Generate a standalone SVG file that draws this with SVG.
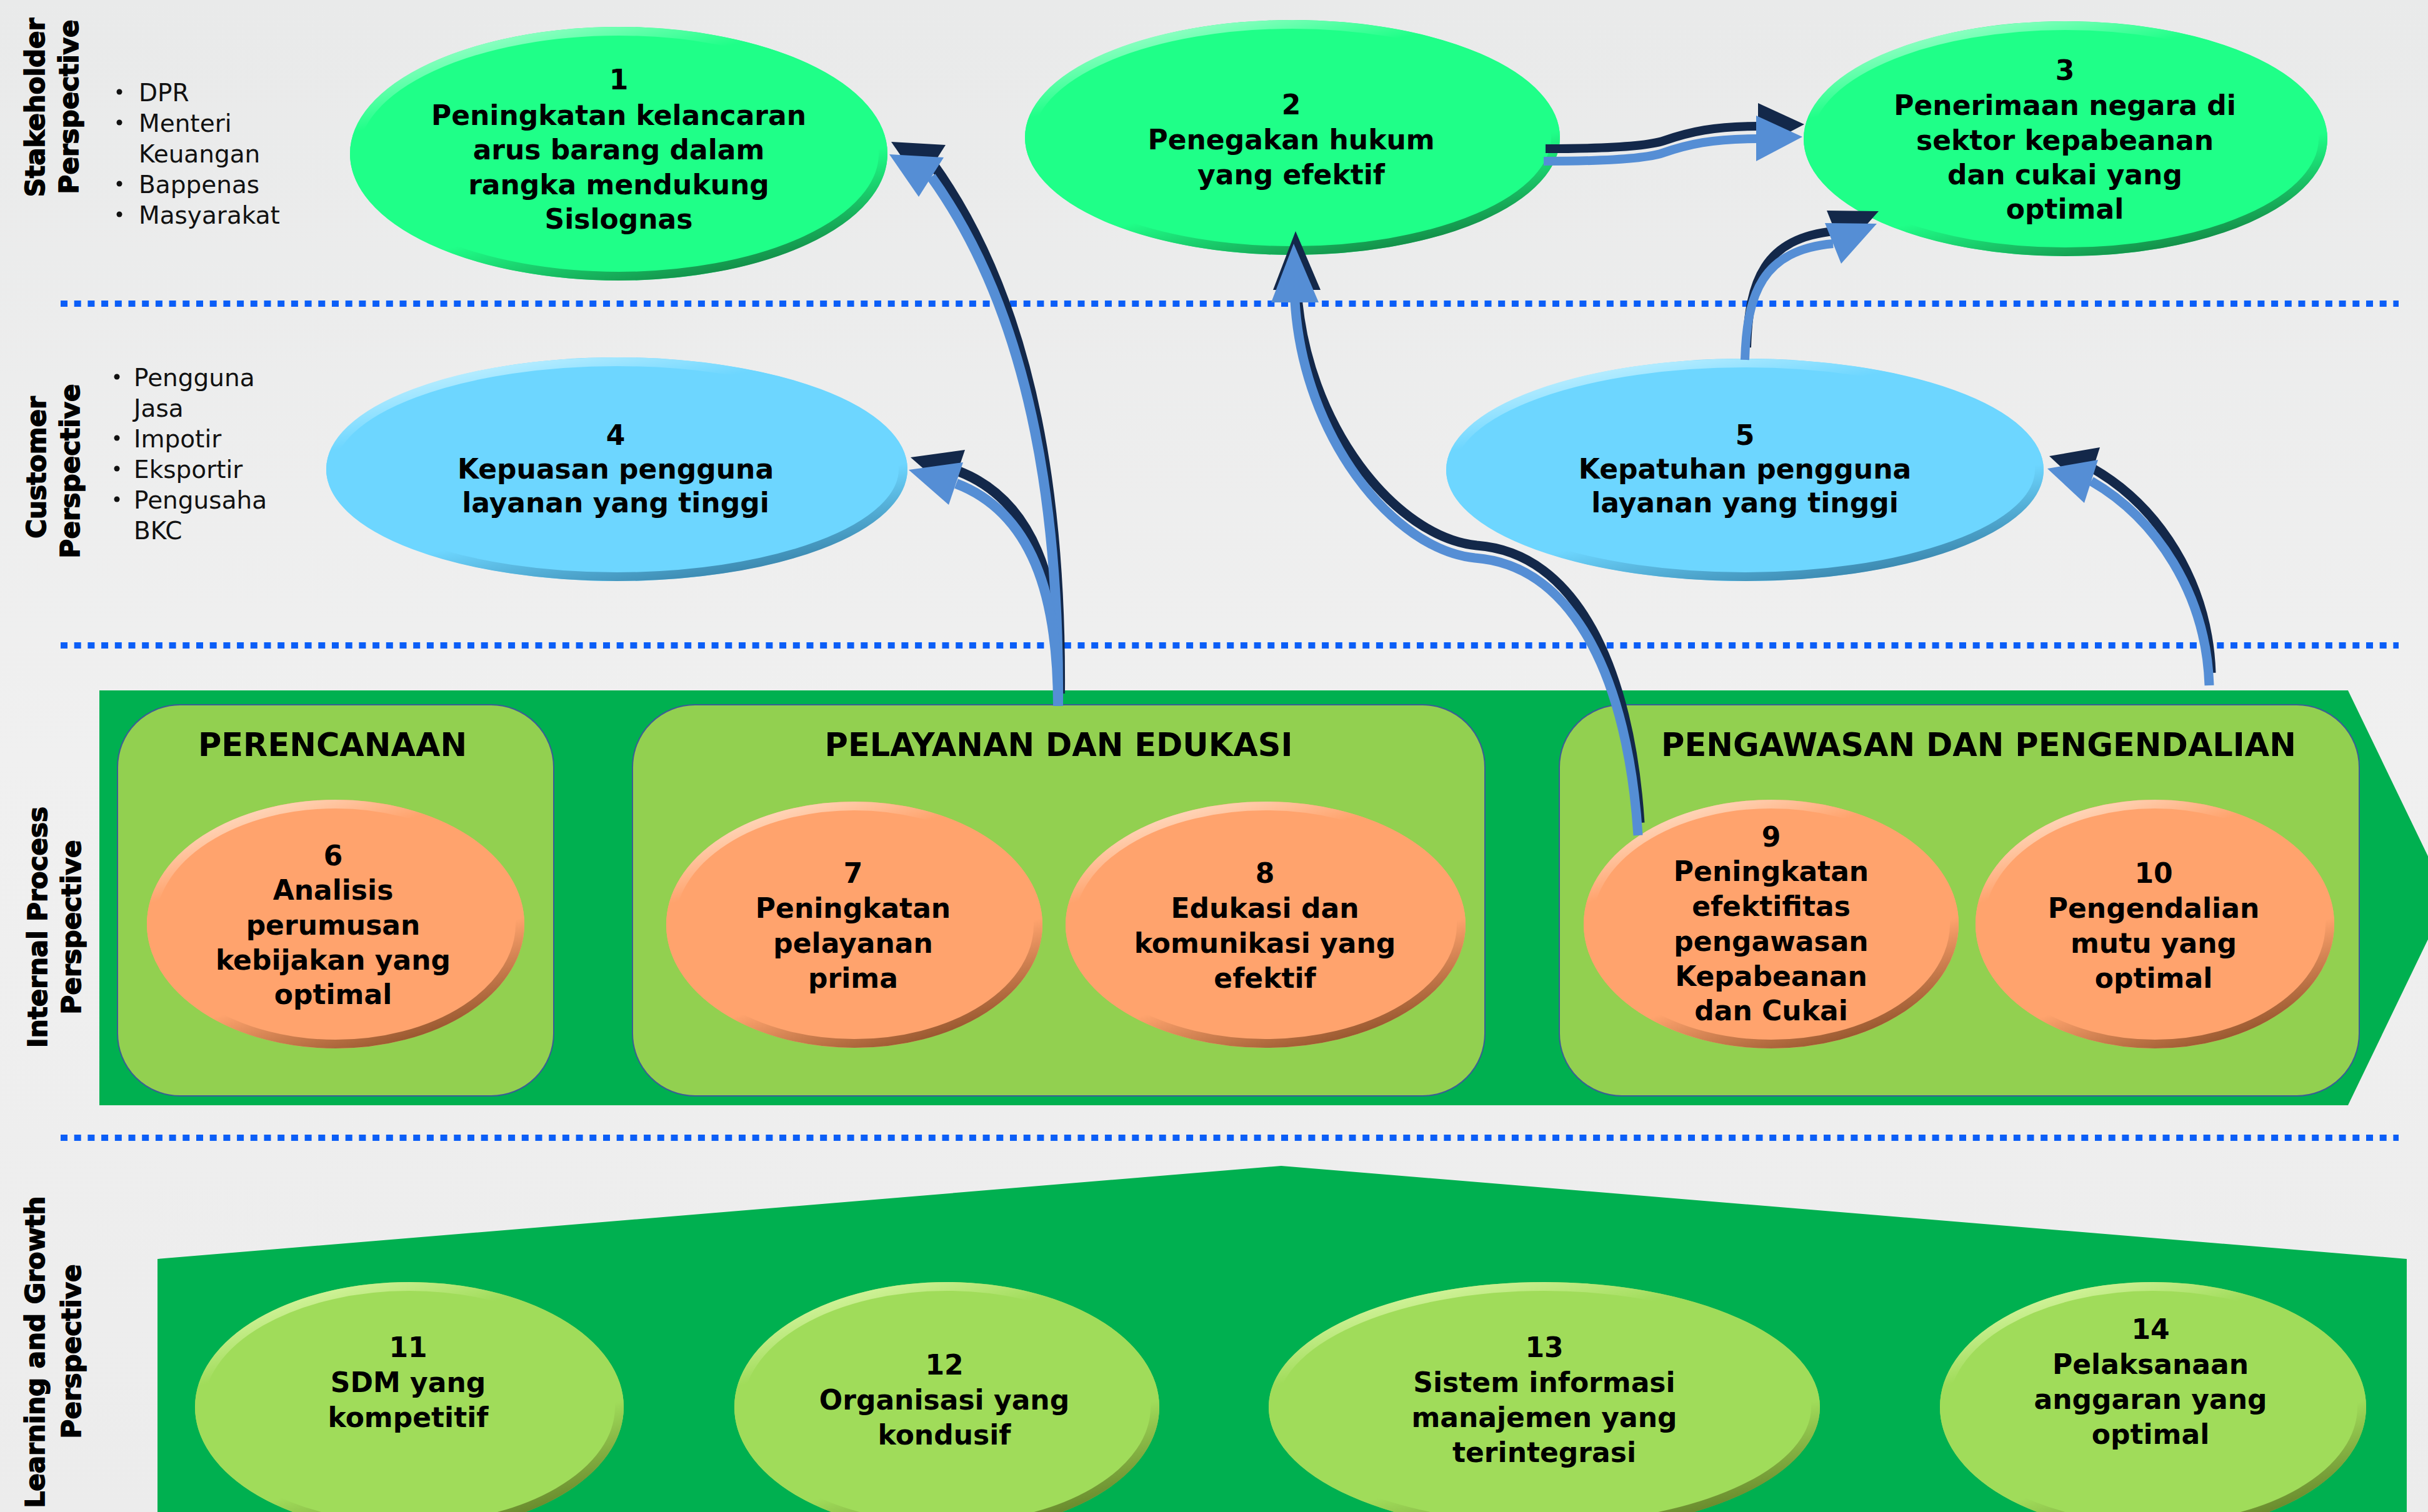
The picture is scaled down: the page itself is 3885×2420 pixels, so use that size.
<svg xmlns="http://www.w3.org/2000/svg" xmlns:xlink="http://www.w3.org/1999/xlink" width="3885" height="2420" viewBox="0 0 3885 2420">
<style>
.nt{font-family:"DejaVu Sans",Verdana,sans-serif;font-weight:bold;font-size:44px;text-anchor:middle;fill:#000}
.bt{font-family:"DejaVu Sans",Verdana,sans-serif;font-weight:bold;font-size:51px;text-anchor:middle;fill:#000}
.pl{font-family:"DejaVu Sans",Verdana,sans-serif;font-weight:bold;font-size:42px;text-anchor:middle;fill:#000;stroke:#000;stroke-width:1.6}
.bl{font-family:"DejaVu Sans",Tahoma,sans-serif;font-size:39px;fill:#111}
.dot{fill:#111}
.sep{stroke:#0b5ef7;stroke-width:10;stroke-dasharray:11 10.7;fill:none}
.band{fill:#00b050}
.box{fill:#92d050;stroke:#3b5c96;stroke-width:2}
.gE{fill:#1fff88}.gB{fill:none;stroke:url(#bevG);stroke-width:14}
.cE{fill:#6dd6ff}.cB{fill:none;stroke:url(#bevC);stroke-width:14}
.oE{fill:#ffa36d}.oB{fill:none;stroke:url(#bevO);stroke-width:14}
.lE{fill:#a0dc5a}.lB{fill:none;stroke:url(#bevL);stroke-width:14}
.shL{fill:none;stroke:#13284a}
.blL{fill:none;stroke:#558ed5}
.shH{fill:#13284a}
.blH{fill:#558ed5}
</style>
<defs>
<linearGradient id="bg" x1="0" y1="0" x2="0" y2="1">
<stop offset="0" stop-color="#e9eaea"/><stop offset="0.5" stop-color="#f0f0f0"/><stop offset="1" stop-color="#ececec"/>
</linearGradient>
<linearGradient id="bevG" x1="0.2" y1="0" x2="0.7" y2="1">
<stop offset="0" stop-color="#a8ffd0"/><stop offset="0.25" stop-color="#1fff88"/><stop offset="0.7" stop-color="#1fff88"/><stop offset="1" stop-color="#138a46"/>
</linearGradient>
<linearGradient id="bevC" x1="0.2" y1="0" x2="0.7" y2="1">
<stop offset="0" stop-color="#c8f2ff"/><stop offset="0.25" stop-color="#6dd6ff"/><stop offset="0.7" stop-color="#6dd6ff"/><stop offset="1" stop-color="#3a86ad"/>
</linearGradient>
<linearGradient id="bevO" x1="0.2" y1="0" x2="0.7" y2="1">
<stop offset="0" stop-color="#ffe2cc"/><stop offset="0.25" stop-color="#ffa36d"/><stop offset="0.7" stop-color="#ffa36d"/><stop offset="1" stop-color="#94552d"/>
</linearGradient>
<linearGradient id="bevL" x1="0.2" y1="0" x2="0.7" y2="1">
<stop offset="0" stop-color="#dcf8a8"/><stop offset="0.25" stop-color="#a0dc5a"/><stop offset="0.7" stop-color="#a0dc5a"/><stop offset="1" stop-color="#66852a"/>
</linearGradient>
<path id="pA" d="M1693,1130 C1695,850 1660,520 1490,283"/>
<polygon id="hA" points="1423,247 1510,252 1470,315"/>
<path id="pB" d="M1693,1130 C1693,950 1650,820 1530,774"/>
<polygon id="hB" points="1454,752 1541,740 1518,808"/>
<path id="pC" d="M2621,1337 C2605,1090 2520,905 2360,893 C2230,880 2085,700 2072,482"/>
<polygon id="hC" points="2070,390 2034,484 2110,484"/>
<path id="pD" d="M2470,258 C2560,258 2630,255 2660,245 C2700,231 2740,222 2812,222"/>
<polygon id="hD" points="2884,219 2810,185 2810,258"/>
<path id="pE" d="M2792,576 C2795,470 2820,400 2933,390"/>
<polygon id="hE" points="3003,358 2920,357 2946,422"/>
<path id="pF" d="M3535,1097 C3530,950 3450,830 3346,770"/>
<polygon id="hF" points="3276,750 3357,736 3335,805"/>
</defs>

<rect x="0" y="0" width="3885" height="2420" fill="url(#bg)"/>

<g id="separators">
<line class="sep" x1="97" y1="486" x2="3838" y2="486"/>
<line class="sep" x1="97" y1="1033" x2="3838" y2="1033"/>
<line class="sep" x1="97" y1="1821" x2="3838" y2="1821"/>
</g>

<g id="perspective-labels">
<text class="pl" transform="translate(71,172) rotate(-90)">Stakeholder</text>
<text class="pl" transform="translate(125,171) rotate(-90)">Perspective</text>
<text class="pl" transform="translate(73,748) rotate(-90)">Customer</text>
<text class="pl" transform="translate(127,754) rotate(-90)">Perspective</text>
<text class="pl" transform="translate(75,1484) rotate(-90)">Internal  Process</text>
<text class="pl" transform="translate(129,1484) rotate(-90)">Perspective</text>
<text class="pl" transform="translate(71,2164) rotate(-90)">Learning and Growth</text>
<text class="pl" transform="translate(129,2163) rotate(-90)">Perspective</text>
</g>

<g id="stakeholder-list">
<circle class="dot" cx="191" cy="147" r="4.5"/>
<circle class="dot" cx="191" cy="196" r="4.5"/>
<circle class="dot" cx="191" cy="294" r="4.5"/>
<circle class="dot" cx="191" cy="343" r="4.5"/>
<text class="bl" x="222" y="162">DPR</text>
<text class="bl" x="222" y="211">Menteri</text>
<text class="bl" x="222" y="260">Keuangan</text>
<text class="bl" x="222" y="309">Bappenas</text>
<text class="bl" x="222" y="358">Masyarakat</text>
</g>

<g id="customer-list">
<circle class="dot" cx="187" cy="603" r="4.5"/>
<circle class="dot" cx="187" cy="701" r="4.5"/>
<circle class="dot" cx="187" cy="750" r="4.5"/>
<circle class="dot" cx="187" cy="799" r="4.5"/>
<text class="bl" x="214" y="618">Pengguna</text>
<text class="bl" x="214" y="667">Jasa</text>
<text class="bl" x="214" y="716">Impotir</text>
<text class="bl" x="214" y="765">Eksportir</text>
<text class="bl" x="214" y="814">Pengusaha</text>
<text class="bl" x="214" y="863">BKC</text>
</g>

<g id="internal-band">
<polygon class="band" points="159,1105 3757,1105 3917,1437 3757,1769 159,1769"/>
</g>
<g id="learning-band">
<polygon class="band" points="252,2015 2050,1866 3851,2015 3851,2420 252,2420"/>
</g>

<g id="group-perencanaan">
<rect class="box" x="188" y="1128" width="698" height="626" rx="100" ry="100"/>
<text class="bt" x="532" y="1210">PERENCANAAN</text>
</g>
<g id="group-pelayanan">
<rect class="box" x="1012" y="1128" width="1364" height="626" rx="100" ry="100"/>
<text class="bt" x="1694" y="1210">PELAYANAN DAN EDUKASI</text>
</g>
<g id="group-pengawasan">
<rect class="box" x="2495" y="1128" width="1280" height="626" rx="100" ry="100"/>
<text class="bt" x="3166" y="1210">PENGAWASAN DAN PENGENDALIAN</text>
</g>

<g id="node1">
<ellipse class="gE" cx="990" cy="246" rx="430" ry="203"/>
<ellipse class="gB" cx="990" cy="246" rx="423" ry="196"/>
<text class="nt" x="990" y="143">1</text>
<text class="nt" x="990" y="200">Peningkatan kelancaran</text>
<text class="nt" x="990" y="255">arus barang dalam</text>
<text class="nt" x="990" y="311">rangka mendukung</text>
<text class="nt" x="990" y="366">Sislognas</text>
</g>
<g id="node2">
<ellipse class="gE" cx="2068" cy="220" rx="428" ry="188"/>
<ellipse class="gB" cx="2068" cy="220" rx="421" ry="181"/>
<text class="nt" x="2066" y="183">2</text>
<text class="nt" x="2066" y="239">Penegakan hukum</text>
<text class="nt" x="2066" y="295">yang efektif</text>
</g>
<g id="node3">
<ellipse class="gE" cx="3305" cy="222" rx="419" ry="188"/>
<ellipse class="gB" cx="3305" cy="222" rx="412" ry="181"/>
<text class="nt" x="3304" y="128">3</text>
<text class="nt" x="3304" y="184">Penerimaan negara di</text>
<text class="nt" x="3304" y="240">sektor kepabeanan</text>
<text class="nt" x="3304" y="295">dan cukai yang</text>
<text class="nt" x="3304" y="350">optimal</text>
</g>
<g id="node4">
<ellipse class="cE" cx="987" cy="751" rx="465" ry="179"/>
<ellipse class="cB" cx="987" cy="751" rx="458" ry="172"/>
<text class="nt" x="985" y="712">4</text>
<text class="nt" x="985" y="766">Kepuasan pengguna</text>
<text class="nt" x="985" y="820">layanan yang tinggi</text>
</g>
<g id="node5">
<ellipse class="cE" cx="2792" cy="752" rx="478" ry="178"/>
<ellipse class="cB" cx="2792" cy="752" rx="471" ry="171"/>
<text class="nt" x="2792" y="712">5</text>
<text class="nt" x="2792" y="766">Kepatuhan pengguna</text>
<text class="nt" x="2792" y="820">layanan yang tinggi</text>
</g>
<g id="node6">
<ellipse class="oE" cx="537" cy="1479" rx="302" ry="199"/>
<ellipse class="oB" cx="537" cy="1479" rx="295" ry="192"/>
<text class="nt" x="533" y="1385">6</text>
<text class="nt" x="533" y="1440">Analisis</text>
<text class="nt" x="533" y="1496">perumusan</text>
<text class="nt" x="533" y="1552">kebijakan yang</text>
<text class="nt" x="533" y="1607">optimal</text>
</g>
<g id="node7">
<ellipse class="oE" cx="1367" cy="1480" rx="301" ry="197"/>
<ellipse class="oB" cx="1367" cy="1480" rx="294" ry="190"/>
<text class="nt" x="1365" y="1413">7</text>
<text class="nt" x="1365" y="1469">Peningkatan</text>
<text class="nt" x="1365" y="1525">pelayanan</text>
<text class="nt" x="1365" y="1581">prima</text>
</g>
<g id="node8">
<ellipse class="oE" cx="2025" cy="1480" rx="320" ry="197"/>
<ellipse class="oB" cx="2025" cy="1480" rx="313" ry="190"/>
<text class="nt" x="2024" y="1413">8</text>
<text class="nt" x="2024" y="1469">Edukasi dan</text>
<text class="nt" x="2024" y="1525">komunikasi yang</text>
<text class="nt" x="2024" y="1581">efektif</text>
</g>
<g id="node9">
<ellipse class="oE" cx="2834" cy="1479" rx="300" ry="199"/>
<ellipse class="oB" cx="2834" cy="1479" rx="293" ry="192"/>
<text class="nt" x="2834" y="1355">9</text>
<text class="nt" x="2834" y="1410">Peningkatan</text>
<text class="nt" x="2834" y="1466">efektifitas</text>
<text class="nt" x="2834" y="1522">pengawasan</text>
<text class="nt" x="2834" y="1578">Kepabeanan</text>
<text class="nt" x="2834" y="1633">dan Cukai</text>
</g>
<g id="node10">
<ellipse class="oE" cx="3448" cy="1479" rx="287" ry="199"/>
<ellipse class="oB" cx="3448" cy="1479" rx="280" ry="192"/>
<text class="nt" x="3446" y="1413">10</text>
<text class="nt" x="3446" y="1469">Pengendalian</text>
<text class="nt" x="3446" y="1525">mutu yang</text>
<text class="nt" x="3446" y="1581">optimal</text>
</g>
<g id="node11">
<ellipse class="lE" cx="655" cy="2252" rx="343" ry="200"/>
<ellipse class="lB" cx="655" cy="2252" rx="336" ry="193"/>
<text class="nt" x="653" y="2172">11</text>
<text class="nt" x="653" y="2228">SDM yang</text>
<text class="nt" x="653" y="2284">kompetitif</text>
</g>
<g id="node12">
<ellipse class="lE" cx="1515" cy="2252" rx="340" ry="200"/>
<ellipse class="lB" cx="1515" cy="2252" rx="333" ry="193"/>
<text class="nt" x="1511" y="2200">12</text>
<text class="nt" x="1511" y="2256">Organisasi yang</text>
<text class="nt" x="1511" y="2312">kondusif</text>
</g>
<g id="node13">
<ellipse class="lE" cx="2471" cy="2252" rx="441" ry="200"/>
<ellipse class="lB" cx="2471" cy="2252" rx="434" ry="193"/>
<text class="nt" x="2471" y="2172">13</text>
<text class="nt" x="2471" y="2228">Sistem informasi</text>
<text class="nt" x="2471" y="2284">manajemen yang</text>
<text class="nt" x="2471" y="2340">terintegrasi</text>
</g>
<g id="node14">
<ellipse class="lE" cx="3445" cy="2252" rx="341" ry="200"/>
<ellipse class="lB" cx="3445" cy="2252" rx="334" ry="193"/>
<text class="nt" x="3441" y="2143">14</text>
<text class="nt" x="3441" y="2199">Pelaksanaan</text>
<text class="nt" x="3441" y="2255">anggaran yang</text>
<text class="nt" x="3441" y="2311">optimal</text>
</g>

<g id="connectors">
<g transform="translate(3,-20)">
<use xlink:href="#pA" class="shL" stroke-width="16"/>
<use xlink:href="#hA" class="shH"/>
<use xlink:href="#pB" class="shL" stroke-width="16"/>
<use xlink:href="#hB" class="shH"/>
<use xlink:href="#pC" class="shL" stroke-width="15"/>
<use xlink:href="#hC" class="shH"/>
<use xlink:href="#pD" class="shL" stroke-width="14"/>
<use xlink:href="#hD" class="shH"/>
<use xlink:href="#pE" class="shL" stroke-width="14"/>
<use xlink:href="#hE" class="shH"/>
<use xlink:href="#pF" class="shL" stroke-width="15"/>
<use xlink:href="#hF" class="shH"/>
</g>
<use xlink:href="#pA" class="blL" stroke-width="16"/>
<use xlink:href="#hA" class="blH"/>
<use xlink:href="#pB" class="blL" stroke-width="16"/>
<use xlink:href="#hB" class="blH"/>
<use xlink:href="#pC" class="blL" stroke-width="15"/>
<use xlink:href="#hC" class="blH"/>
<use xlink:href="#pD" class="blL" stroke-width="14"/>
<use xlink:href="#hD" class="blH"/>
<use xlink:href="#pE" class="blL" stroke-width="14"/>
<use xlink:href="#hE" class="blH"/>
<use xlink:href="#pF" class="blL" stroke-width="15"/>
<use xlink:href="#hF" class="blH"/>
</g>
</svg>
